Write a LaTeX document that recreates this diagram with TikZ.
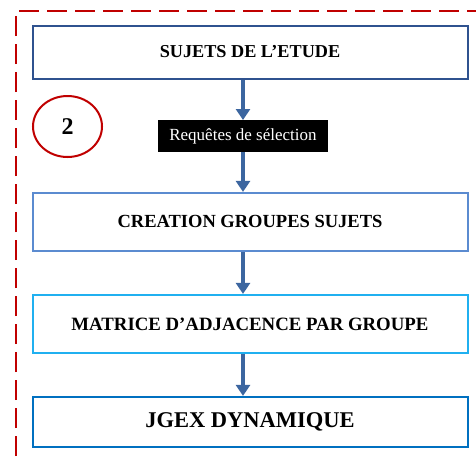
\documentclass[tikz,border=0pt]{standalone}
\usepackage{fontspec}
\setmainfont{Liberation Serif}
\usetikzlibrary{arrows.meta,positioning,shapes.geometric}
\definecolor{qnavy}{RGB}{47,82,143}
\definecolor{qsteel}{RGB}{91,139,208}
\definecolor{qcyan}{RGB}{32,176,240}
\definecolor{qazure}{RGB}{0,112,192}
\definecolor{qarrow}{RGB}{60,102,160}
\definecolor{qred}{RGB}{192,0,0}
\begin{document}
\begin{tikzpicture}[x=1pt,y=1pt,
  box/.style={draw=qnavy,line width=2pt,fill=white,minimum width=435pt,minimum height=53pt,inner sep=0pt,font=\fontsize{18.5}{20}\selectfont\bfseries},
  tag/.style={fill=black,text=white,minimum width=170pt,minimum height=32pt,inner sep=0pt,font=\fontsize{17}{20}\selectfont},
  arr/.style={-{Triangle[length=11pt,width=14pt]},line width=4.5pt,qarrow}]
\useasboundingbox (0,0) rectangle (476,-456);
\draw[qred,line width=2pt,dash pattern=on 20pt off 8pt] (16,-456) -- (16,-11) -- (476,-11);
\node[box,font=\fontsize{18.2}{20}\selectfont\bfseries] (a) at (250,-52) {SUJETS DE L’ETUDE};
\node[tag,below=40.5pt of a,xshift=-7pt] (q) {Requêtes de sélection};
\node[box,draw=qsteel,minimum height=58pt,below=39.5pt of q,xshift=7pt] (b) {CREATION GROUPES SUJETS};
\node[box,draw=qcyan,minimum height=58pt,below=42pt of b,font=\fontsize{18.8}{20}\selectfont\bfseries] (c) {MATRICE D’ADJACENCE PAR GROUPE};
\node[box,draw=qazure,minimum height=50pt,below=42pt of c,font=\fontsize{22.5}{24}\selectfont\bfseries] (d) {JGEX DYNAMIQUE};
\node[ellipse,draw=qred,line width=2pt,minimum width=69pt,minimum height=61pt,font=\fontsize{24}{26}\selectfont\bfseries] (n) at (67.5,-126.5) {2};
\draw[arr] (q |- a.south) -- (q.north);
\draw[arr] (q.south) -- (q |- b.north);
\draw[arr] (q |- b.south) -- (q |- c.north);
\draw[arr] (q |- c.south) -- (q |- d.north);
\end{tikzpicture}
\end{document}
